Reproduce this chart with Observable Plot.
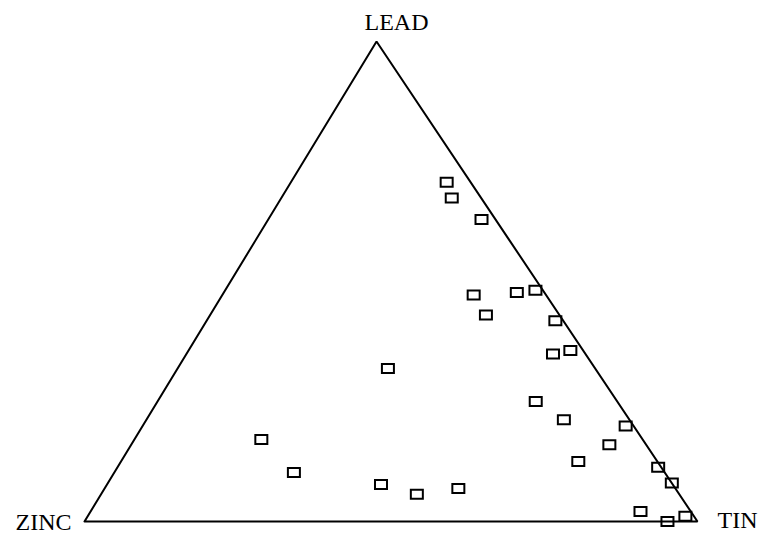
<!DOCTYPE html>
<html>
<head>
<meta charset="utf-8">
<script src="https://cdn.jsdelivr.net/npm/d3@7"></script>
<script src="https://cdn.jsdelivr.net/npm/@observablehq/plot@0.6"></script>
<style>
  html, body { margin: 0; padding: 0; background: #fff; }
</style>
</head>
<body>
<div id="chart"></div>
<script>
// Ternary composition (percent) of each sample
const lead = [70.7, 67.4, 62.9, 47.2, 47.7, 48.2, 43.0, 41.8, 34.9, 35.6, 31.9, 25.0, 21.2, 19.9, 17.1, 16.0, 12.5, 10.2, 11.3, 8.0, 7.7, 5.7, 6.9, 2.1, 0.0, 1.1];
const tin  = [25.4, 27.8, 34.8, 41.0, 47.8, 50.6, 45.0, 56.9, 59.8, 62.3, 34.3, 61.7, 68.1, 78.8, 20.7, 78.0, 74.6, 29.3, 88.2, 92.0, 44.7, 51.5, 57.7, 89.7, 95.1, 97.5];
const zinc = [3.9, 4.8, 2.3, 11.8, 4.5, 1.2, 12.0, 1.3, 5.3, 2.1, 33.8, 13.3, 10.7, 1.3, 62.2, 6.0, 12.9, 60.5, 0.5, 0.0, 47.6, 42.8, 35.4, 8.2, 4.9, 1.4];

// Vertices: name and pure composition [lead, tin, zinc]
const vertexNames = ["ZINC", "TIN", "LEAD"];
const vertexLead  = [0, 0, 100];
const vertexTin   = [0, 100, 0];

// Layout of the (slightly skewed) triangle drawing
const APEX_X = 0.4764;
function toXY(l, t) {
  return { x: t / 100 + (l / 100) * APEX_X, y: l / 100 };
}

const samples = lead.map((l, i) => ({ ...toXY(l, tin[i]), lead: l, tin: tin[i], zinc: zinc[i] }));
const vertices = vertexNames.map((n, i) => ({ name: n, ...toXY(vertexLead[i], vertexTin[i]) }));
const outline = [...vertices, vertices[0]];

const box = {
  draw(ctx) { ctx.rect(-6, -4.5, 12, 9); }
};

const labelPos = {
  ZINC: { dx: -13, dy: 8, anchor: "end" },
  TIN:  { dx: 20, dy: 6, anchor: "start" },
  LEAD: { dx: 20, dy: -12, anchor: "middle" }
};

const chart = Plot.plot({
  width: 758,
  height: 535,
  margin: 0,
  style: { background: "#fff", fontFamily: "'Liberation Serif', serif" },
  x: { domain: [0, 1], range: [84, 697], axis: null },
  y: { domain: [0, 1], range: [521, 41], axis: null },
  marks: [
    Plot.line(outline, { x: "x", y: "y", stroke: "#000", strokeWidth: 2, strokeLinejoin: "miter" }),
    Plot.dot(samples, { x: "x", y: "y", symbol: box, fill: "none", stroke: "#000", strokeWidth: 2 }),
    ...vertices.map(v => Plot.text([v], {
      x: "x", y: "y", text: "name",
      dx: labelPos[v.name].dx, dy: labelPos[v.name].dy,
      textAnchor: labelPos[v.name].anchor, lineAnchor: "bottom",
      fontSize: 24, fill: "#000"
    }))
  ]
});
document.getElementById("chart").appendChild(chart);
</script>
</body>
</html>
